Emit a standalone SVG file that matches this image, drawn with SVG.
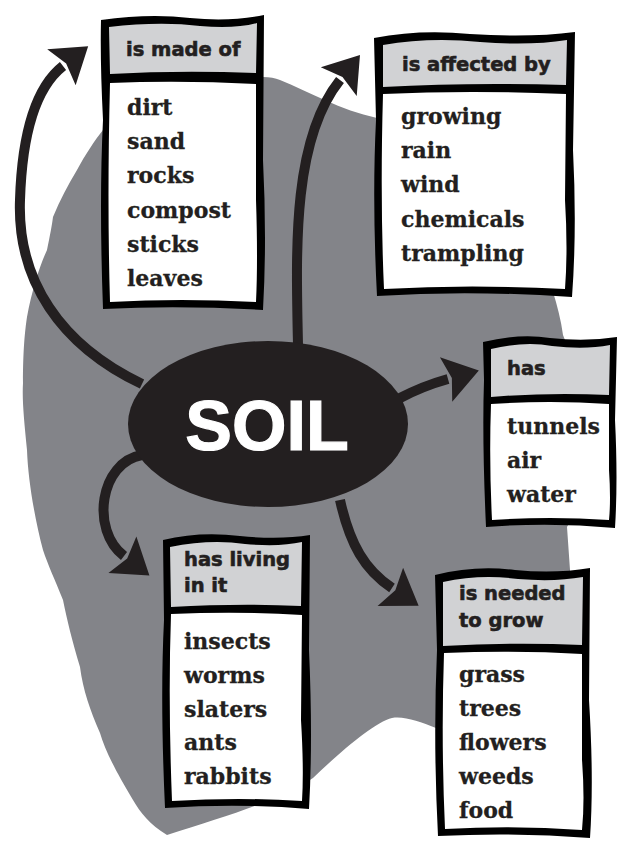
<svg xmlns="http://www.w3.org/2000/svg" width="618" height="841" viewBox="0 0 618 841">
<style>
.hd{font-family:"DejaVu Sans",sans-serif;font-weight:bold;font-size:19.5px;fill:#231f20;stroke:#231f20;stroke-width:0.6px}
.bd{font-family:"DejaVu Serif",serif;font-weight:bold;font-size:22px;fill:#231f20;stroke:#231f20;stroke-width:0.3px}
.bord{fill:#000}
.head{fill:#d1d2d4}
.body{fill:#fff}
.arr{fill:none;stroke:#231f20;stroke-width:10;marker-end:url(#ah)}
</style>
<defs>
<marker id="ah" markerUnits="userSpaceOnUse" viewBox="-10 -30 50 60" markerWidth="50" markerHeight="60" refX="0" refY="0" orient="auto">
<path d="M -2,-23 L 32,0 L -2,23 L 4,0 Z" fill="#231f20"/>
</marker>
</defs>
<rect width="618" height="841" fill="#fff"/>
<path id="blob" fill="#838489" d="M 280,80 C 310,92 340,110 377,118 C 450,140 540,180 550,280 L 553,292 C 557,305 561,320 563,335 C 590,400 595,480 567,527 L 570,570 C 575,650 500,720 436,728 C 420,722 405,716 392,718 C 375,722 340,752 313,778 C 280,800 230,815 167,835 C 150,825 140,812 133,800 C 115,770 105,750 100,733 C 90,710 83,690 80,667 C 72,640 67,620 63,600 C 55,580 48,565 43,550 C 35,520 28,480 27,450 C 24,420 22,400 23,383 C 23,350 25,330 27,317 C 32,290 40,265 47,250 C 50,235 52,225 53,217 C 60,200 68,185 77,170 C 85,155 95,140 103,130 C 150,100 220,75 263,77 C 270,77 275,78 280,80 Z"/>
<g id="connectors">
<path class="arr" d="M 142,384 C 60,345 17,280 20,200 C 22,135 35,88 63,66"/>
<path class="arr" d="M 298,345 C 296,250 292,140 340,80"/>
<path class="arr" d="M 398,399 C 415,390 430,384 448,379"/>
<path class="arr" d="M 142,455 C 100,462 90,530 124,556"/>
<path class="arr" d="M 340,500 C 350,545 365,570 392,588"/>
</g>
<g id="soil">
<ellipse cx="268" cy="424" rx="140" ry="83" fill="#231f20"/>
<text x="267" y="450" text-anchor="middle" font-family="Liberation Sans, Arial, sans-serif" font-weight="bold" font-size="70" fill="#fff" stroke="#fff" stroke-width="1.2">SOIL</text>
</g>
<g id="is-made-of">
<path class="bord" d="M 101,20 Q 150,13 190,18 Q 230,22 264,15 L 263,160 Q 267,240 263,310 Q 180,305 103,309 Q 99,200 103,120 Q 100,60 101,20 Z"/>
<path class="head" d="M 109,27 Q 160,21 200,26 Q 235,29 257,23 L 256,73 Q 180,70 110,74 Z"/>
<path class="body" d="M 110,83 Q 180,80 256,84 L 256,200 Q 258,260 256,302 Q 180,298 110,302 Q 107,200 110,83 Z"/>
<text class="hd" x="126" y="56">is made of</text>
<text class="bd" x="127" y="115">dirt</text>
<text class="bd" x="127" y="149">sand</text>
<text class="bd" x="127" y="183">rocks</text>
<text class="bd" x="127" y="218">compost</text>
<text class="bd" x="127" y="252">sticks</text>
<text class="bd" x="127" y="286">leaves</text>
</g>
<g id="is-affected-by">
<path class="bord" d="M 374,38 Q 420,29 470,34 Q 530,38 575,32 L 573,150 Q 577,230 572,297 Q 470,290 377,296 Q 372,200 376,120 Z"/>
<path class="head" d="M 383,45 Q 430,37 480,42 Q 530,46 567,40 L 566,85 Q 470,82 383,87 Z"/>
<path class="body" d="M 383,94 Q 470,90 566,94 L 565,200 Q 568,250 565,289 Q 470,284 384,289 Q 380,200 383,94 Z"/>
<text class="hd" x="402" y="71">is affected by</text>
<text class="bd" x="401" y="124">growing</text>
<text class="bd" x="401" y="158">rain</text>
<text class="bd" x="401" y="192">wind</text>
<text class="bd" x="401" y="227">chemicals</text>
<text class="bd" x="401" y="261">trampling</text>
</g>
<g id="has">
<path class="bord" d="M 483,342 Q 520,333 550,338 Q 585,342 617,337 L 615,420 Q 618,480 615,528 Q 550,522 486,527 Q 482,440 484,380 Z"/>
<path class="head" d="M 491,349 Q 525,341 552,346 Q 585,350 610,345 L 609,395 Q 550,392 491,397 Z"/>
<path class="body" d="M 491,404 Q 550,400 609,404 L 609,470 Q 611,500 609,520 Q 550,516 492,520 Q 489,460 491,404 Z"/>
<text class="hd" x="507" y="375">has</text>
<text class="bd" x="507" y="434">tunnels</text>
<text class="bd" x="507" y="468">air</text>
<text class="bd" x="507" y="502">water</text>
</g>
<g id="has-living-in-it">
<path class="bord" d="M 163,540 Q 200,531 240,536 Q 280,540 310,535 L 309,650 Q 313,740 309,809 Q 240,803 165,808 Q 160,700 164,620 Z"/>
<path class="head" d="M 170,547 Q 210,539 245,544 Q 280,547 302,542 L 301,606 Q 240,603 171,607 Z"/>
<path class="body" d="M 171,614 Q 240,611 302,615 L 301,720 Q 304,770 302,801 Q 240,797 172,801 Q 168,700 171,614 Z"/>
<text class="hd" x="184" y="566">has living</text>
<text class="hd" x="184" y="592">in it</text>
<text class="bd" x="184" y="649">insects</text>
<text class="bd" x="184" y="683">worms</text>
<text class="bd" x="184" y="717">slaters</text>
<text class="bd" x="184" y="750">ants</text>
<text class="bd" x="184" y="784">rabbits</text>
</g>
<g id="is-needed-to-grow">
<path class="bord" d="M 435,575 Q 475,565 515,570 Q 555,574 590,568 L 589,700 Q 594,780 590,838 Q 515,832 438,836 Q 433,740 437,650 Z"/>
<path class="head" d="M 443,582 Q 480,574 518,579 Q 555,582 583,577 L 582,645 Q 515,642 443,646 Z"/>
<path class="body" d="M 444,653 Q 515,650 582,654 L 582,760 Q 585,800 582,830 Q 515,825 445,829 Q 441,740 444,653 Z"/>
<text class="hd" x="459" y="600">is needed</text>
<text class="hd" x="459" y="627">to grow</text>
<text class="bd" x="459" y="682">grass</text>
<text class="bd" x="459" y="716">trees</text>
<text class="bd" x="459" y="750">flowers</text>
<text class="bd" x="459" y="784">weeds</text>
<text class="bd" x="459" y="818">food</text>
</g>
</svg>
